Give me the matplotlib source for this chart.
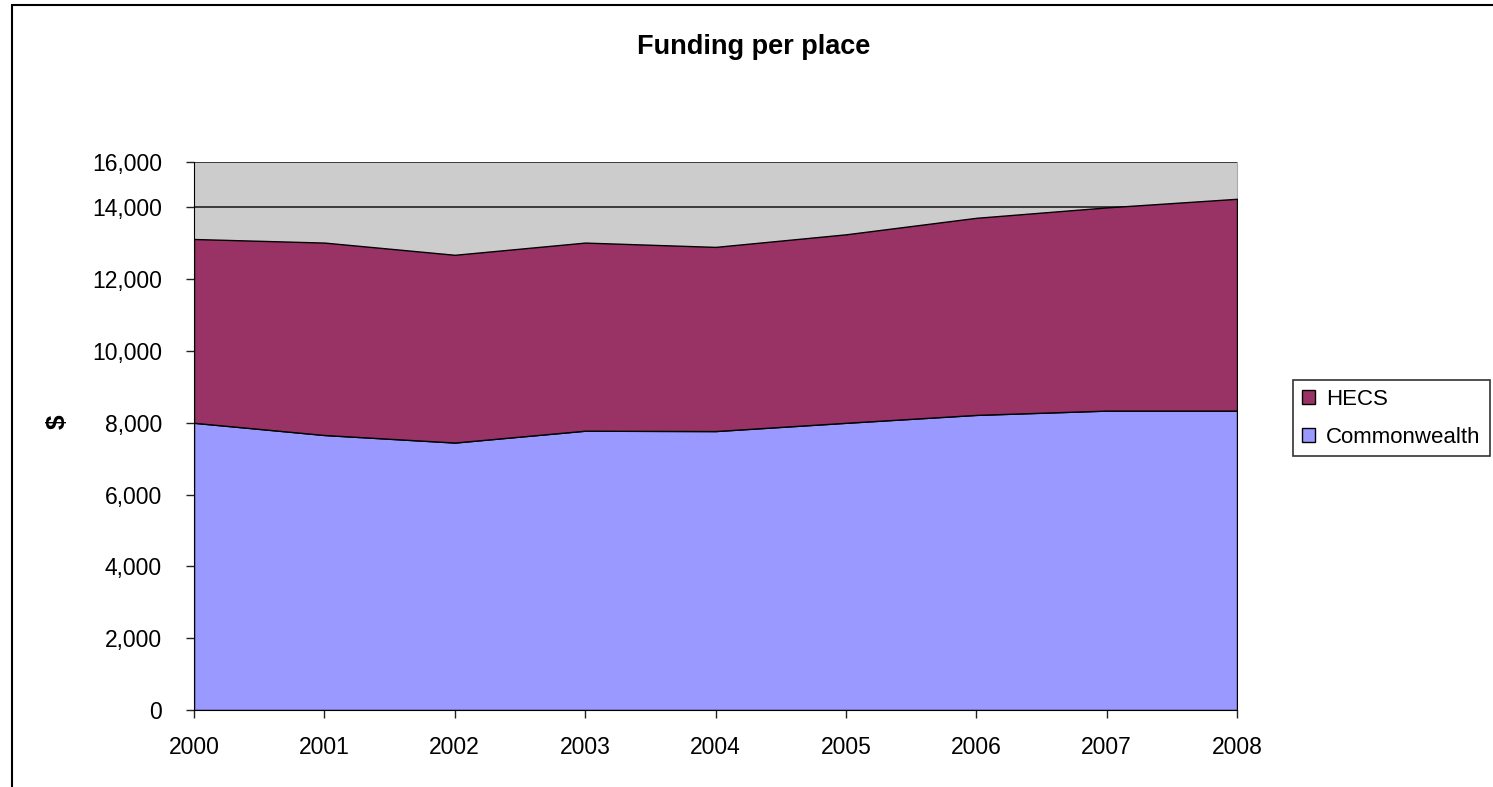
import matplotlib
matplotlib.use("Agg")
import matplotlib.pyplot as plt
from matplotlib.patches import Rectangle, Patch

plt.rcParams['font.family'] = ['Liberation Sans', 'DejaVu Sans']

years = [2000, 2001, 2002, 2003, 2004, 2005, 2006, 2007, 2008]
commonwealth = [8000, 7660, 7450, 7780, 7770, 8000, 8220, 8340, 8340]
hecs = [5120, 5360, 5230, 5240, 5130, 5250, 5490, 5660, 5900]
y_tick_values = [0, 2000, 4000, 6000, 8000, 10000, 12000, 14000]
y_tick_labels = ["0", "2,000", "4,000", "6,000", "8,000", "10,000", "12,000", "14,000", "16,000"]
y_top = 15265  # visible top of the value axis (labelled 16,000 in the source)

W, H = 1493, 787
fig = plt.figure(figsize=(W / 100, H / 100), dpi=100)

left, right, bottom, top = 194, 1237, 710, 162
ax = fig.add_axes([left / W, 1 - bottom / H, (right - left) / W, (bottom - top) / H])
ax.set_facecolor('#CCCCCC')

total = [c + h for c, h in zip(commonwealth, hecs)]
ax.fill_between(years, 0, commonwealth, facecolor='#9999FF', edgecolor='black', linewidth=1.0, zorder=3)
ax.fill_between(years, commonwealth, total, facecolor='#993366', edgecolor='black', linewidth=1.0, zorder=3)

ax.set_xlim(years[0], years[-1])
ax.set_ylim(0, y_top)
ax.set_xticks(years)
ax.set_xticklabels([str(y) for y in years], fontsize=16.5)
ax.set_yticks(y_tick_values + [y_top])
ax.set_yticklabels(y_tick_labels, fontsize=16.5)
ax.tick_params(axis='both', direction='out', length=6, width=1, color='#222222')
ax.tick_params(axis='y', pad=17)
ax.tick_params(axis='x', pad=13)
ax.yaxis.grid(True, color='#222222', linewidth=1.2, zorder=1)
ax.set_axisbelow(True)

ax.spines['top'].set_visible(False)
ax.spines['right'].set_color('#AAAAAA')
ax.spines['left'].set_color('black')
ax.spines['bottom'].set_color('black')
ax.spines['left'].set_zorder(5)
ax.spines['bottom'].set_zorder(5)

fig.text(58 / W, 1 - 422 / H, '$', fontsize=19, fontweight='bold', rotation=90,
         ha='center', va='center')

fig.text(754 / W, 1 - 47 / H, 'Funding per place', fontsize=19.5, fontweight='bold',
         ha='center', va='center')

# outer chart border (cropped on the right and bottom)
fig.patches.append(Rectangle((12 / W, -0.05), 1.1, 1 - 5 / H + 0.05, transform=fig.transFigure,
                             fill=False, edgecolor='black', linewidth=1.5))

handles = [Patch(facecolor='#993366', edgecolor='black', label='HECS'),
           Patch(facecolor='#9999FF', edgecolor='black', label='Commonwealth')]
leg = fig.legend(handles=handles, loc='upper left', bbox_to_anchor=(1293 / W, 1 - 380 / H),
                 fontsize=16, frameon=True, fancybox=False, edgecolor='black',
                 handlelength=0.6, handleheight=0.6, handletextpad=0.5, labelspacing=0.75,
                 borderpad=0.4, borderaxespad=0)
leg.get_frame().set_linewidth(1.2)

fig.savefig('out.png', dpi=100)
